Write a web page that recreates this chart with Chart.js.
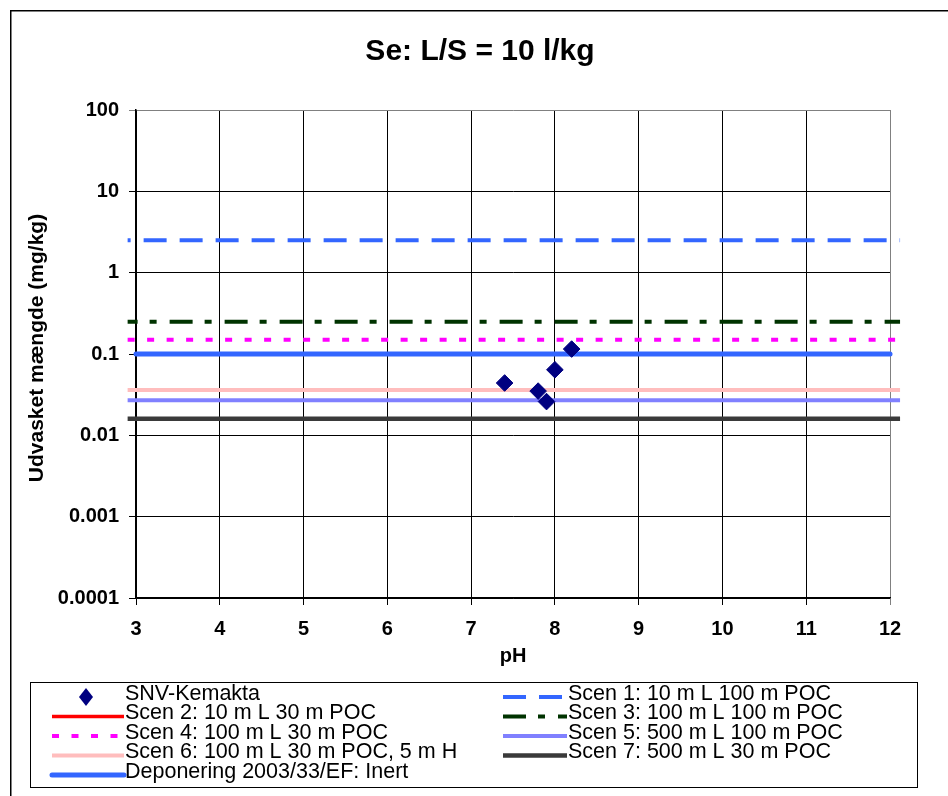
<!DOCTYPE html>
<html>
<head>
<meta charset="utf-8">
<title>Se: L/S = 10 l/kg</title>
<script src="https://cdn.jsdelivr.net/npm/chart.js@4/dist/chart.umd.min.js"></script>
<style>
  html, body { margin: 0; padding: 0; background: #ffffff; }
  #c { display: block; }
</style>
</head>
<body>
<canvas id="c" width="948" height="796"></canvas>
<script>
// ---- data ----
const chartTitle = 'Se: L/S = 10 l/kg';
const xAxisTitle = 'pH';
const yAxisTitle = 'Udvasket mængde (mg/kg)';

const xTickValues = [3, 4, 5, 6, 7, 8, 9, 10, 11, 12];
const yTickValues = [0.0001, 0.001, 0.01, 0.1, 1, 10, 100];
const yTickLabels = ['0.0001', '0.001', '0.01', '0.1', '1', '10', '100'];

// measured leaching, SNV-Kemakta
const snvLabel = 'SNV-Kemakta';
const snvPH = [7.4, 7.8, 7.9, 8.0, 8.2];
const snvValues = [0.044, 0.035, 0.026, 0.064, 0.115];

// scenario limit values (Scen 2 has no value inside the plotted range)
const scenarioLabels = [
  'Scen 1: 10 m L 100 m POC',
  'Scen 2: 10 m L 30 m POC',
  'Scen 3: 100 m L 100 m POC',
  'Scen 4: 100 m L 30 m POC',
  'Scen 5: 500 m L 100 m POC',
  'Scen 6: 100 m L 30 m POC, 5 m H',
  'Scen 7: 500 m L 30 m POC'
];
const scenarioValues = [2.5, null, 0.25, 0.15, 0.027, 0.036, 0.016];
const scenarioPH = [2.9, 12.12];

// landfill directive criterion
const inertLabel = 'Deponering 2003/33/EF: Inert';
const inertValue = 0.1;
const inertPH = [3, 12];

// ---- styles ----
const FONT = '"Liberation Sans", Arial, Helvetica, sans-serif';
const scenarioStyles = [
  { color: '#3366FF', width: 4, dash: [23, 13], offset: 20 },
  { color: '#FF0000', width: 3.5, dash: [], offset: 0 },
  { color: '#003300', width: 4, dash: [23, 12, 7, 13], offset: 13 },
  { color: '#FF00FF', width: 4, dash: [7, 12.5], offset: 0 },
  { color: '#8080FF', width: 4, dash: [], offset: 0 },
  { color: '#FFBDBD', width: 4, dash: [], offset: 0 },
  { color: '#3A3A3A', width: 4.5, dash: [], offset: 0 }
];
const inertStyle = { color: '#3366FF', width: 5 };
const markerColor = '#000080';

function hline(xs, v) {
  if (v === null) return [];
  return xs.map(x => ({ x: x, y: v }));
}

const datasets = [];
datasets.push({
  label: snvLabel,
  data: snvPH.map((x, i) => ({ x: x, y: snvValues[i] })),
  showLine: false,
  pointStyle: 'rectRot',
  pointRadius: 8.3,
  pointHoverRadius: 8.3,
  backgroundColor: markerColor,
  borderColor: markerColor,
  borderWidth: 1,
  order: 0,
  legendKind: 'point'
});
scenarioLabels.forEach((lab, i) => {
  const s = scenarioStyles[i];
  datasets.push({
    label: lab,
    data: hline(scenarioPH, scenarioValues[i]),
    showLine: true,
    pointRadius: 0,
    borderColor: s.color,
    backgroundColor: s.color,
    borderWidth: s.width,
    borderDash: s.dash,
    borderDashOffset: s.offset,
    borderCapStyle: 'butt',
    clip: false,
    order: 2,
    legendKind: 'line'
  });
});
datasets.push({
  label: inertLabel,
  data: hline(inertPH, inertValue),
  showLine: true,
  pointRadius: 0,
  borderColor: inertStyle.color,
  backgroundColor: inertStyle.color,
  borderWidth: inertStyle.width,
  borderCapStyle: 'round',
  clip: false,
  order: 1,
  legendKind: 'line'
});

// legend order: two columns, row-major
const legendOrder = [0, 1, 2, 3, 4, 5, 6, 7, 8];

const framePlugin = {
  id: 'frame',
  beforeDraw(chart) {
    const ctx = chart.ctx;
    ctx.save();
    ctx.fillStyle = '#ffffff';
    ctx.fillRect(0, 0, chart.width, chart.height);
    ctx.strokeStyle = '#000000';
    ctx.lineWidth = 1.5;
    ctx.beginPath();
    ctx.moveTo(10.75, chart.height + 2);
    ctx.lineTo(10.75, 10.75);
    ctx.lineTo(chart.width + 2, 10.75);
    ctx.stroke();
    ctx.restore();
  },
  afterDraw(chart) {
    const ctx = chart.ctx;
    const area = chart.chartArea;
    ctx.save();
    // title
    ctx.fillStyle = '#000000';
    ctx.font = 'bold 30px ' + FONT;
    ctx.textAlign = 'center';
    ctx.textBaseline = 'middle';
    ctx.fillText(chartTitle, 480, 52);

    // vertical axis title
    ctx.save();
    ctx.translate(37, (area.top + area.bottom) / 2 - 6);
    ctx.rotate(-Math.PI / 2);
    ctx.font = 'bold 21px ' + FONT;
    ctx.fillText(yAxisTitle, 0, 0);
    ctx.restore();

    // legend box
    ctx.strokeStyle = '#000000';
    ctx.lineWidth = 1;
    ctx.strokeRect(30.5, 682.5, 887, 105);

    const colSample = [[52, 124], [503, 567]];
    const colText = [125, 568];
    const row0 = 697, rowStep = 19.5;
    ctx.font = '21.5px ' + FONT;
    ctx.textAlign = 'left';
    ctx.textBaseline = 'middle';
    legendOrder.forEach((di, k) => {
      const ds = chart.data.datasets[di];
      const col = k % 2, row = Math.floor(k / 2);
      const y = row0 + row * rowStep;
      const [x0, x1] = colSample[col];
      if (ds.legendKind === 'point') {
        const cx = 86, r = 7;
        ctx.fillStyle = ds.backgroundColor;
        ctx.beginPath();
        ctx.moveTo(cx - r, y); ctx.lineTo(cx, y - r - 2);
        ctx.lineTo(cx + r, y); ctx.lineTo(cx, y + r + 2);
        ctx.closePath();
        ctx.fill();
      } else {
        ctx.strokeStyle = ds.borderColor;
        ctx.lineWidth = ds.borderWidth;
        ctx.lineCap = ds.borderCapStyle || 'butt';
        ctx.setLineDash(ds.borderDash || []);
        ctx.lineDashOffset = 0;
        ctx.beginPath();
        ctx.moveTo(x0, y); ctx.lineTo(x1, y);
        ctx.stroke();
        ctx.setLineDash([]);
      }
      ctx.fillStyle = '#000000';
      ctx.fillText(ds.label, colText[col], y - 3);
    });
    ctx.restore();
  }
};

const gridColor = (edgeValue) => (c) => (c.tick && c.tick.value === edgeValue ? '#808080' : '#000000');

new Chart(document.getElementById('c'), {
  type: 'scatter',
  data: { datasets: datasets },
  options: {
    responsive: false,
    animation: false,
    devicePixelRatio: 1,
    layout: { padding: { left: 11, top: 110, right: 58, bottom: 128 } },
    plugins: {
      legend: { display: false },
      title: { display: false },
      tooltip: { enabled: false }
    },
    scales: {
      x: {
        type: 'linear',
        min: 3,
        max: 12,
        afterBuildTicks: (s) => { s.ticks = xTickValues.map(v => ({ value: v })); },
        afterFit: (s) => { s.height = 70; },
        ticks: {
          color: '#000000',
          font: { family: FONT, size: 20, weight: 'bold' },
          padding: 12,
          autoSkip: false,
          maxRotation: 0,
          callback: (v) => String(v)
        },
        grid: { color: gridColor(12), lineWidth: 1, tickLength: 7 },
        border: { color: '#000000', width: 1.5 },
        title: {
          display: true,
          text: xAxisTitle,
          color: '#000000',
          font: { family: FONT, size: 20, weight: 'bold' },
          padding: { top: 0, bottom: 0 }
        }
      },
      y: {
        type: 'logarithmic',
        min: 0.0001,
        max: 100,
        afterBuildTicks: (s) => { s.ticks = yTickValues.map(v => ({ value: v })); },
        afterFit: (s) => { s.width = 125; },
        ticks: {
          color: '#000000',
          font: { family: FONT, size: 20, weight: 'bold' },
          padding: 10,
          autoSkip: false,
          callback: (v, i) => yTickLabels[i]
        },
        grid: { color: gridColor(100), lineWidth: 1, tickLength: 7 },
        border: { color: '#000000', width: 1.5 }
      }
    }
  },
  plugins: [framePlugin]
});
</script>
</body>
</html>
